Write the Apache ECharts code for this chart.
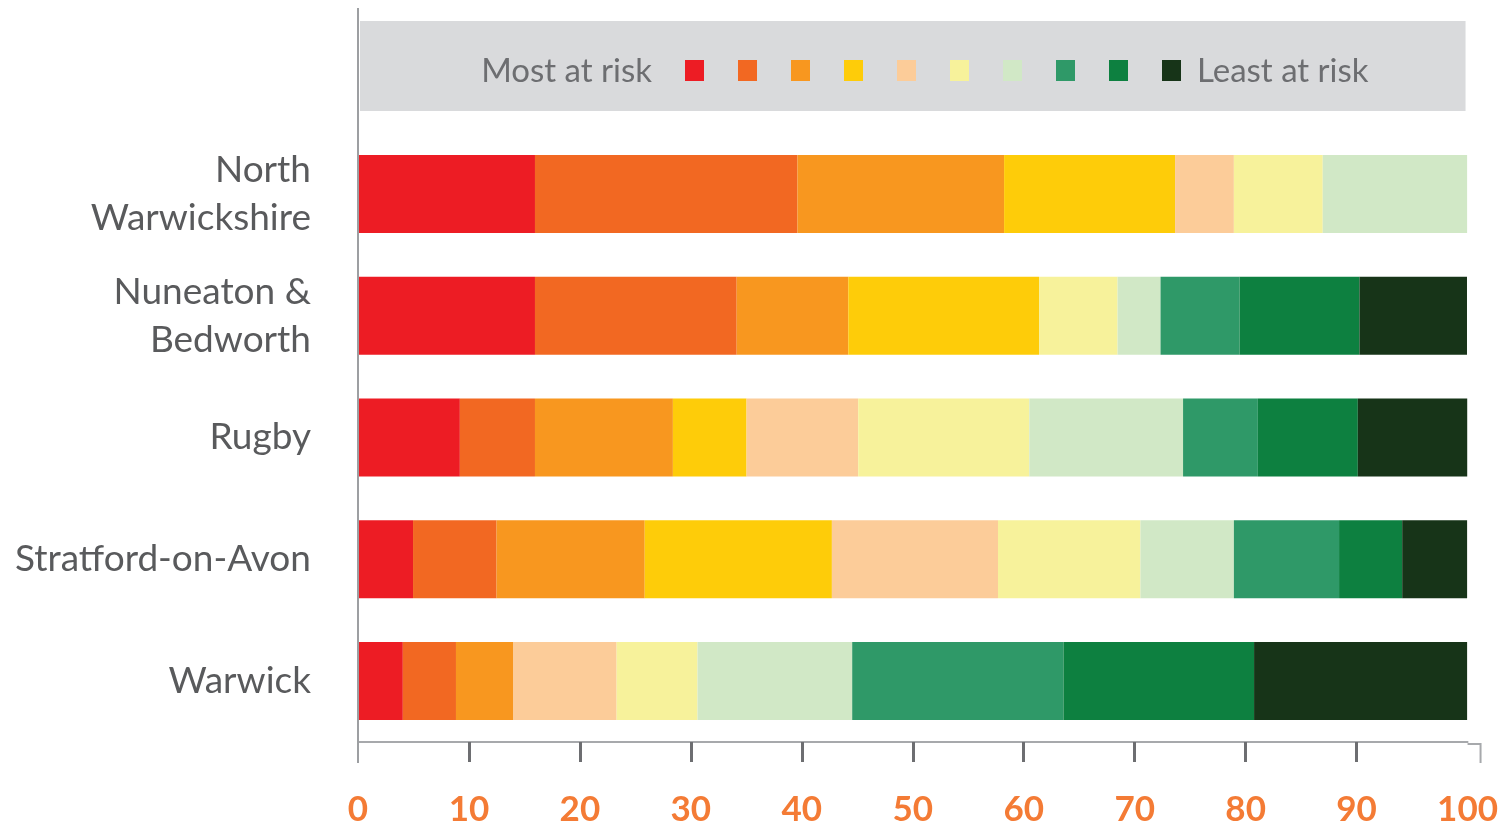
<!DOCTYPE html>
<html>
<head>
<meta charset="utf-8">
<script src="https://cdn.jsdelivr.net/npm/echarts@6/dist/echarts.min.js"></script>
<style>
  html, body { margin: 0; padding: 0; background: #ffffff; }
  #chart { width: 1501px; height: 827px; }
</style>
</head>
<body>
<div id="chart"></div>
<script>
// Districts, top to bottom
const districts = ['North\nWarwickshire', 'Nuneaton &\nBedworth', 'Rugby', 'Stratford-on-Avon', 'Warwick'];

// Share of each district (%) falling in each risk decile, 1 = most at risk
const decile1  = [15.95, 15.95, 9.18, 4.96, 4.04];
const decile2  = [23.66, 18.18, 6.77, 7.53, 4.79];
const decile3  = [18.62, 10.06, 12.43, 13.35, 5.14];
const decile4  = [15.41, 17.19, 6.64, 16.87, 0];
const decile5  = [5.30, 0, 10.06, 14.97, 9.34];
const decile6  = [8.01, 7.08, 15.42, 12.84, 7.29];
const decile7  = [13.01, 3.87, 13.86, 8.42, 13.94];
const decile8  = [0, 7.12, 6.74, 9.48, 19.04];
const decile9  = [0, 10.81, 9.01, 5.69, 17.18];
const decile10 = [0, 9.69, 9.86, 5.85, 19.20];

const deciles = [decile1, decile2, decile3, decile4, decile5, decile6, decile7, decile8, decile9, decile10];
const decileNames = ['Decile 1', 'Decile 2', 'Decile 3', 'Decile 4', 'Decile 5',
                     'Decile 6', 'Decile 7', 'Decile 8', 'Decile 9', 'Decile 10'];
const decileColours = ['#ED1C24', '#F26822', '#F8971F', '#FECC09', '#FCCC99',
                       '#F7F29B', '#D1E8C6', '#2F9968', '#0D8040', '#173418'];

// Axis ticks and legend end captions
const xTicks = [0, 10, 20, 30, 40, 50, 60, 70, 80, 90, 100];
const innerTicks = [10, 20, 30, 40, 50, 60, 70, 80, 90];
const mostLabel = 'Most at risk';
const leastLabel = 'Least at risk';

const FONT = 'Lato, "Open Sans", sans-serif';
const chart = echarts.init(document.getElementById('chart'), null, { renderer: 'canvas' });

const option = {
  animation: false,
  backgroundColor: '#ffffff',
  grid: { left: 358, right: 29, top: 133, bottom: 83, containLabel: false },
  xAxis: {
    type: 'value',
    min: 0, max: 100, interval: 10,
    splitLine: { show: false },
    axisLine: { show: true, lineStyle: { color: '#A7A9AC', width: 2 } },
    axisTick: {
      show: true, inside: false, length: 20,
      customValues: innerTicks,
      lineStyle: { color: '#6D6E71', width: 3 }
    },
    axisLabel: {
      customValues: xTicks,
      margin: 50,
      color: '#F47B35',
      fontFamily: FONT,
      fontWeight: 'bold',
      fontSize: 35
    }
  },
  yAxis: {
    type: 'category',
    data: districts,
    inverse: true,
    axisLine: { show: false },
    axisTick: { show: false },
    axisLabel: {
      margin: 47,
      color: '#595A5C',
      fontFamily: FONT,
      fontSize: 37,
      lineHeight: 48,
      align: 'right'
    }
  },
  legend: {
    data: decileNames,
    left: 680,
    top: 55,
    icon: 'rect',
    itemWidth: 19,
    itemHeight: 21,
    itemGap: 34,
    formatter: () => '',
    selectedMode: false,
    z: 5
  },
  series: deciles.map((vals, i) => ({
    name: decileNames[i],
    type: 'bar',
    stack: 'share',
    barWidth: 78,
    itemStyle: { color: decileColours[i] },
    emphasis: { disabled: true },
    data: vals
  }))
};

chart.setOption(option);

// Frame decorations placed from the axis scale: legend band, full-height zero line, axis end
const x0 = chart.convertToPixel({ xAxisIndex: 0 }, 0);
const x100 = chart.convertToPixel({ xAxisIndex: 0 }, 100);
const axisY = 827 - 83;

chart.setOption({
  graphic: [
    { type: 'rect', z: 1, shape: { x: x0 + 2, y: 21, width: x100 - x0 - 4, height: 90 },
      style: { fill: '#D9DADC' } },
    { type: 'line', z: 10, shape: { x1: x0, y1: 8, x2: x0, y2: axisY + 19 },
      style: { stroke: '#9D9FA2', lineWidth: 2 } },
    { type: 'line', z: 10, shape: { x1: x100, y1: axisY, x2: x100 + 13, y2: axisY },
      style: { stroke: '#A7A9AC', lineWidth: 2 } },
    { type: 'line', z: 10, shape: { x1: x100 + 13, y1: axisY - 1, x2: x100 + 13, y2: axisY + 19 },
      style: { stroke: '#A7A9AC', lineWidth: 2 } },
    { type: 'text', z: 6, style: { text: mostLabel, x: 652, y: 71, align: 'right', verticalAlign: 'middle',
      font: '33px ' + FONT, fill: '#6D6E71' } },
    { type: 'text', z: 6, style: { text: leastLabel, x: 1197, y: 71, align: 'left', verticalAlign: 'middle',
      font: '33px ' + FONT, fill: '#6D6E71' } }
  ]
});
</script>
</body>
</html>
